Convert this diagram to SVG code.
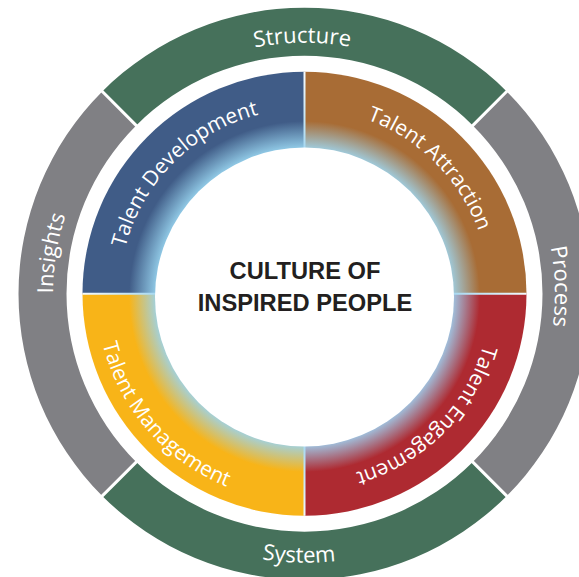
<svg xmlns="http://www.w3.org/2000/svg" width="579" height="577" viewBox="0 0 579 577">
  <style>
    .lbl { font-family: "Open Sans", "Noto Sans", "DejaVu Sans", sans-serif; fill: #ffffff; }
    .outer { font-size: 22px; }
    .inner { font-size: 21px; }
    .center { font-family: "Liberation Sans", Arial, sans-serif; font-weight: bold; font-size: 23.7px; fill: #231f20; text-anchor: middle; }
    .green { fill: #46715b; }
    .grey { fill: #808084; }
    .sep { stroke: #ffffff; stroke-width: 3; }
  </style>
  <defs>
    <radialGradient id="gBlue" gradientUnits="userSpaceOnUse" cx="304.5" cy="296.5" r="222">
      <stop offset="0.665" stop-color="#93cde9"/>
      <stop offset="0.79" stop-color="#405c87"/>
      <stop offset="1" stop-color="#405c87"/>
    </radialGradient>
    <radialGradient id="gBrown" gradientUnits="userSpaceOnUse" cx="304.5" cy="296.5" r="222">
      <stop offset="0.665" stop-color="#9fcde0"/>
      <stop offset="0.79" stop-color="#a86c35"/>
      <stop offset="1" stop-color="#a86c35"/>
    </radialGradient>
    <radialGradient id="gRed" gradientUnits="userSpaceOnUse" cx="304.5" cy="296.5" r="222">
      <stop offset="0.665" stop-color="#9fc8e6"/>
      <stop offset="0.79" stop-color="#ae2a31"/>
      <stop offset="1" stop-color="#ae2a31"/>
    </radialGradient>
    <radialGradient id="gYellow" gradientUnits="userSpaceOnUse" cx="304.5" cy="296.5" r="222">
      <stop offset="0.665" stop-color="#9fd2e4"/>
      <stop offset="0.79" stop-color="#f8b418"/>
      <stop offset="1" stop-color="#f8b418"/>
    </radialGradient>
    <radialGradient id="gDiv" gradientUnits="userSpaceOnUse" cx="304.5" cy="296.5" r="222">
      <stop offset="0.66" stop-color="#a6d8f1"/>
      <stop offset="0.8" stop-color="#c4e5f5"/>
      <stop offset="1" stop-color="#f4fafd"/>
    </radialGradient>
    <path id="pStructure" d="M 141.49 102.84 A 251 251 0 0 1 464.16 100.02"/>
    <path id="pProcess" d="M 491.66 127.20 A 250.5 250.5 0 0 1 500.92 449.16"/>
    <path id="pSystem" d="M 127.31 496.10 A 269 269 0 0 0 473.06 503.34"/>
    <path id="pInsights" d="M 88.70 422.87 A 251.5 251.5 0 0 1 139.83 103.60"/>
    <path id="pDev" d="M 119.5 293.7 A 185 185 0 0 1 304.5 108.7"/>
    <path id="pAttr" d="M 304.5 108.7 A 185 185 0 0 1 489.5 293.7"/>
    <path id="pEng" d="M 490.5 293.7 A 186 186 0 0 1 304.5 479.7"/>
    <path id="pMgmt" d="M 97.01 279.19 A 208 208 0 0 0 289.99 501.19"/>
  </defs>
  <rect width="579" height="577" fill="#ffffff"/>

  <g id="structure">
    <path class="green" d="M 102.27 91.47 A 286 286 0 0 1 506.73 91.47 L 472.79 125.41 A 238 238 0 0 0 136.21 125.41 Z"/>
    <text class="lbl outer"><textPath href="#pStructure" startOffset="50%" text-anchor="middle">Structure</textPath></text>
  </g>
  <g id="process">
    <path class="grey" d="M 506.73 91.47 A 286 286 0 0 1 506.73 495.93 L 472.79 461.99 A 238 238 0 0 0 472.79 125.41 Z"/>
    <text class="lbl outer"><textPath href="#pProcess" startOffset="50%" text-anchor="middle">Process</textPath></text>
  </g>
  <g id="system">
    <path class="green" d="M 506.73 495.93 A 286 286 0 0 1 102.27 495.93 L 136.21 461.99 A 238 238 0 0 0 472.79 461.99 Z"/>
    <text class="lbl outer"><textPath href="#pSystem" startOffset="50%" text-anchor="middle">System</textPath></text>
  </g>
  <g id="insights">
    <path class="grey" d="M 102.27 495.93 A 286 286 0 0 1 102.27 91.47 L 136.21 125.41 A 238 238 0 0 0 136.21 461.99 Z"/>
    <text class="lbl outer"><textPath href="#pInsights" startOffset="50%" text-anchor="middle">Insights</textPath></text>
  </g>
  <g id="outer-separators">
    <line class="sep" x1="471.38" y1="126.82" x2="508.15" y2="90.05"/>
    <line class="sep" x1="471.38" y1="460.58" x2="508.15" y2="497.35"/>
    <line class="sep" x1="137.62" y1="460.58" x2="100.85" y2="497.35"/>
    <line class="sep" x1="137.62" y1="126.82" x2="100.85" y2="90.05"/>
  </g>

  <g id="talent-development">
    <path fill="url(#gBlue)" d="M 304.5 293.7 L 82.5 293.7 A 222 222 0 0 1 304.5 71.7 Z"/>
  </g>
  <g id="talent-attraction">
    <path fill="url(#gBrown)" d="M 304.5 293.7 L 304.5 71.7 A 222 222 0 0 1 526.5 293.7 Z"/>
  </g>
  <g id="talent-engagement">
    <path fill="url(#gRed)" d="M 304.5 293.7 L 526.5 293.7 A 222 222 0 0 1 304.5 515.7 Z"/>
  </g>
  <g id="talent-management">
    <path fill="url(#gYellow)" d="M 304.5 293.7 L 304.5 515.7 A 222 222 0 0 1 82.5 293.7 Z"/>
  </g>
  <g id="inner-separators">
    <line x1="304.5" y1="71.7" x2="304.5" y2="515.7" stroke="url(#gDiv)" stroke-width="2"/>
    <line x1="82.5" y1="293.7" x2="526.5" y2="293.7" stroke="url(#gDiv)" stroke-width="2"/>
  </g>
  <g id="inner-labels">
    <text class="lbl inner"><textPath href="#pDev" startOffset="50%" text-anchor="middle">Talent Development</textPath></text>
    <text class="lbl inner"><textPath href="#pAttr" startOffset="50%" text-anchor="middle">Talent Attraction</textPath></text>
    <text class="lbl inner"><textPath href="#pEng" startOffset="50%" text-anchor="middle">Talent Engagement</textPath></text>
    <text class="lbl inner"><textPath href="#pMgmt" startOffset="50%" text-anchor="middle">Talent Management</textPath></text>
  </g>

  <g id="culture">
    <circle cx="304.5" cy="297" r="149.5" fill="#ffffff"/>
    <text class="center" x="305" y="278.5">CULTURE OF</text>
    <text class="center" x="305" y="311">INSPIRED PEOPLE</text>
  </g>
</svg>
